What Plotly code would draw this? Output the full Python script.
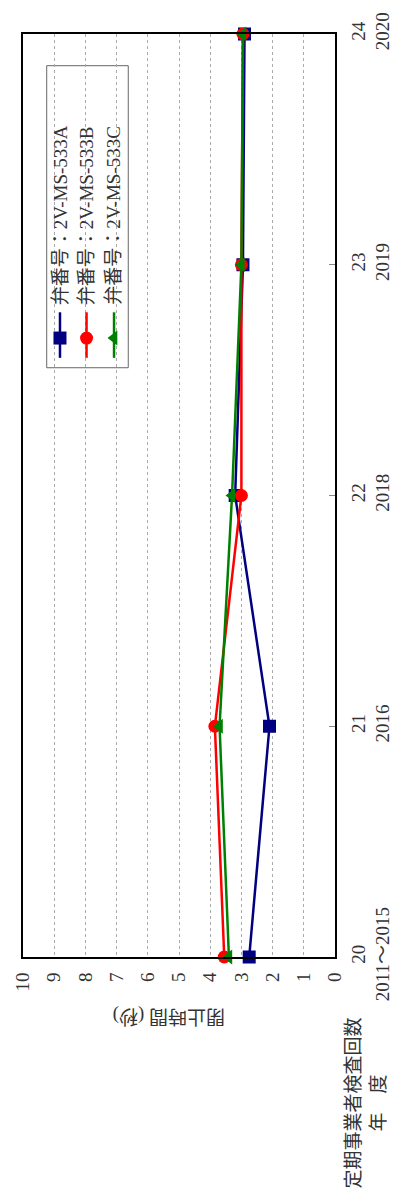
import plotly.graph_objects as go

# Inspection rounds (vertical axis, drawn on the right) and their fiscal years
inspection_no = [20, 21, 22, 23, 24]
fiscal_year = ["2011～2015", "2016", "2018", "2019", "2020"]

# Valve closing time in seconds for each valve
valve_a = [2.75, 2.1, 3.2, 2.95, 2.9]
valve_b = [3.55, 3.85, 3.0, 3.0, 2.95]
valve_c = [3.4, 3.7, 3.3, 3.0, 2.95]

series_names = ["弁番号：2V-MS-533A", "弁番号：2V-MS-533B", "弁番号：2V-MS-533C"]
series_colors = ["#000080", "#ff0000", "#008000"]
series_symbols = ["square", "circle", "triangle-left"]

value_ticks = list(range(0, 11))

SERIF = "Liberation Serif, Noto Sans CJK JP, serif"
TXT = "#333333"
W, H = 406, 1196
L, R, T, B = 18, 59, 25, 239
PW, PH = W - L - R, H - T - B


def px_x(x):
    """Horizontal pixel position -> paper fraction."""
    return (x - L) / PW


def px_y(y):
    """Vertical pixel position (from top) -> paper fraction."""
    return (H - B - y) / PH


fig = go.Figure()

for vals, name, color, sym in zip([valve_a, valve_b, valve_c], series_names,
                                  series_colors, series_symbols):
    fig.add_trace(go.Scatter(
        x=vals, y=inspection_no, mode="lines+markers", name=name,
        line=dict(color=color, width=2.5),
        marker=dict(symbol=sym, size=13, color=color),
        cliponaxis=False, showlegend=False,
    ))

# Legend panel (text runs bottom-to-top, symbols below the text)
col_x = [px_x(57), px_x(85), px_x(114)]
shapes = [dict(type="rect", xref="paper", yref="paper",
               x0=px_x(43), x1=px_x(129), y0=px_y(362), y1=px_y(57),
               line=dict(color="#666666", width=1), fillcolor="white", layer="between")]
annotations = []
for cx, name, color, sym in zip(col_x, series_names, series_colors, series_symbols):
    fig.add_trace(go.Scatter(
        x=[cx, cx, cx], y=[px_y(352), px_y(332), px_y(306)],
        mode="lines+markers", xaxis="x2", yaxis="y2",
        line=dict(color=color, width=2.5),
        marker=dict(symbol=sym, size=13, color=color,
                    opacity=[0, 1, 0]),
        cliponaxis=False, showlegend=False, hoverinfo="skip",
    ))
    annotations.append(dict(
        x=cx, y=px_y(301), xref="paper", yref="paper", text=name, showarrow=False,
        textangle=-90, xanchor="center", yanchor="bottom",
        font=dict(family=SERIF, size=19, color=TXT),
    ))

# Axis titles
annotations.append(dict(
    x=px_x(172), y=px_y(1016), xref="paper", yref="paper", text="閉止時間 (秒)",
    showarrow=False, textangle=180, xanchor="center", yanchor="middle",
    font=dict(family=SERIF, size=19, color=TXT),
))
annotations.append(dict(
    x=px_x(380), y=px_y(1193), xref="paper", yref="paper",
    text="定期事業者検査回数<br>年　度", showarrow=False, textangle=-90,
    align="center", xanchor="center", yanchor="bottom",
    font=dict(family=SERIF, size=19, color=TXT),
))

fig.update_layout(
    width=W, height=H,
    margin=dict(l=L, r=R, t=T, b=B, pad=0),
    paper_bgcolor="white", plot_bgcolor="white",
    xaxis=dict(
        range=[10, 0], tickvals=value_ticks, ticktext=[str(v) for v in value_ticks],
        tickangle=-90, showgrid=True, gridcolor="#aaaaaa", griddash="dot", gridwidth=1,
        showline=True, linecolor="black", linewidth=2, mirror=True,
        zeroline=False, ticks="", ticklabelstandoff=6,
        tickfont=dict(family=SERIF, size=19, color=TXT),
    ),
    yaxis=dict(
        range=[20, 24], side="right", tickvals=inspection_no,
        ticktext=[f"{n}<br>{y}" for n, y in zip(inspection_no, fiscal_year)],
        tickangle=-90, showgrid=False,
        showline=True, linecolor="black", linewidth=2, mirror=True,
        zeroline=False, ticks="inside", ticklen=6, tickcolor="#888888",
        ticklabelstandoff=5,
        tickfont=dict(family=SERIF, size=19, color=TXT),
    ),
    xaxis2=dict(overlaying="x", range=[0, 1], visible=False),
    yaxis2=dict(overlaying="y", range=[0, 1], visible=False),
    shapes=shapes,
    annotations=annotations,
)

fig.write_html("out.html")
